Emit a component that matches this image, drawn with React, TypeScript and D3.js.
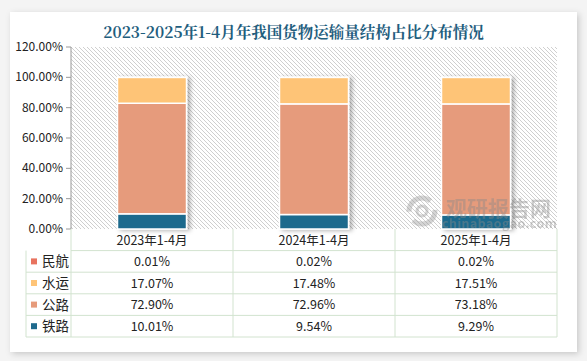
import * as d3 from "d3";

const categories = ["2023年1-4月", "2024年1-4月", "2025年1-4月"];
const seriesNames = ["铁路", "公路", "水运", "民航"];
const railway = [10.01, 9.54, 9.29];
const highway = [72.9, 72.96, 73.18];
const waterway = [17.07, 17.48, 17.51];
const aviation = [0.01, 0.02, 0.02];
const yTicks = [0, 20, 40, 60, 80, 100, 120];
const colors = ["#1E6A8D", "#E69B7B", "#FEC477", "#E8735F"];

const W = 587;
const H = 361;
const plot = { left: 71, right: 557, top: 47, bottom: 229 };
const FONT = "'Microsoft YaHei', 'Noto Sans CJK SC', 'Noto Sans', sans-serif";

export default function App() {
  const seriesValues = [railway, highway, waterway, aviation];
  const rows = categories.map((c, i) => {
    const r: Record<string, number | string> = { cat: c };
    seriesNames.forEach((s, j) => (r[s] = seriesValues[j][i]));
    return r;
  });
  const stack = d3.stack<Record<string, number | string>>().keys(seriesNames)(rows as any);

  const x = d3
    .scaleBand<string>()
    .domain(categories)
    .range([plot.left, plot.right])
    .paddingInner(0.574)
    .paddingOuter(0.287);
  const cols = d3.scaleBand<string>().domain(categories).range([plot.left, plot.right]);
  const y = d3.scaleLinear().domain([0, 120]).range([plot.bottom, plot.top]);

  // table rows: header + one per series (top row is 民航)
  const tableTop = plot.bottom;
  const rowH = 21.6;
  const tableRows = [...seriesNames].reverse();
  const tableLeft = 26;
  const tableBottom = tableTop + rowH * (tableRows.length + 1);

  return (
    <svg
      width={W}
      height={H}
      style={{ position: "absolute", left: 0, top: 0, fontFamily: FONT }}
    >
      <defs>
        <pattern id="hatch" width="4" height="4" patternUnits="userSpaceOnUse">
          <rect width="4" height="4" fill="#fff" />
          <path d="M-1,-1 L5,5 M-1,3 L1,5 M3,-1 L5,1" stroke="#cfcfcf" strokeWidth="1" />
        </pattern>
        <filter id="cardShadow" x="-5%" y="-5%" width="110%" height="110%">
          <feDropShadow dx="2" dy="2" stdDeviation="3" floodColor="#000" floodOpacity="0.18" />
        </filter>
        <filter id="barShadow" x="-20%" y="-5%" width="140%" height="110%">
          <feDropShadow dx="3" dy="1" stdDeviation="2" floodColor="#000" floodOpacity="0.3" />
        </filter>
      </defs>
      <rect width={W} height={H} fill="#f4f4f4" />
      <rect x={10} y={12} width={567} height={340} fill="#fff" filter="url(#cardShadow)" />

      <text
        x={W / 2}
        y={38}
        textAnchor="middle"
        fontSize={15.5}
        fontWeight={700}
        fill="#1F5E7E"
        fontFamily="'Noto Serif CJK SC', 'Noto Sans CJK SC', serif"
      >
        2023-2025年1-4月年我国货物运输量结构占比分布情况
      </text>

      {/* plot background */}
      <rect
        x={plot.left}
        y={plot.top}
        width={plot.right - plot.left}
        height={plot.bottom - plot.top}
        fill="url(#hatch)"
      />

      {/* y axis */}
      <line x1={plot.left} x2={plot.left} y1={plot.top} y2={plot.bottom} stroke="#999" />
      {yTicks.map((t) => (
        <g key={t}>
          <line x1={plot.left - 5} x2={plot.left} y1={y(t)} y2={y(t)} stroke="#999" />
          <text x={63} y={y(t) + 4} textAnchor="end" fontSize={12} fill="#222">
            {t.toFixed(2)}%
          </text>
        </g>
      ))}

      {/* bars */}
      <g filter="url(#barShadow)">
        {stack.map((layer, si) => (
          <g key={layer.key} fill={colors[si]}>
            {layer.map((d, i) => (
              <rect
                key={i}
                x={x(categories[i])}
                y={y(d[1])}
                width={x.bandwidth()}
                height={y(d[0]) - y(d[1])}
                stroke="#fff"
                strokeWidth={1.5}
              />
            ))}
          </g>
        ))}
      </g>

      {/* watermark */}
      <g opacity={0.42} fill="#8a8a8a">
        <circle cx={422} cy={211} r={13} fill="none" stroke="#9a9a9a" strokeWidth={5} strokeDasharray="30 10" />
        <circle cx={422} cy={211} r={5} fill="none" stroke="#9a9a9a" strokeWidth={3} />
        <text x={446} y={216} fontSize={21} fontWeight={700}>观研报告网</text>
        <text x={442} y={228} fontSize={12.5} fontWeight={700} letterSpacing={0.4}>chinabaogao.com</text>
      </g>

      {/* data table */}
      <g stroke="#D2E3CF" strokeWidth={1} fill="none">
        {d3.range(tableRows.length + 1).map((r) => (
          <line
            key={r}
            x1={r === 0 ? plot.left : tableLeft}
            x2={plot.right}
            y1={tableTop + rowH * (r + 1)}
            y2={tableTop + rowH * (r + 1)}
          />
        ))}
        <line x1={tableLeft} x2={tableLeft} y1={tableTop + rowH} y2={tableBottom} />
        <line x1={plot.left} x2={plot.left} y1={tableTop} y2={tableBottom} />
        {categories.map((c) => (
          <line
            key={c}
            x1={(cols(c) ?? 0) + cols.bandwidth()}
            x2={(cols(c) ?? 0) + cols.bandwidth()}
            y1={tableTop}
            y2={tableBottom}
          />
        ))}
      </g>
      {categories.map((c) => (
        <text
          key={c}
          x={(cols(c) ?? 0) + cols.bandwidth() / 2}
          y={tableTop + rowH / 2 + 5}
          textAnchor="middle"
          fontSize={12.5}
          fill="#222"
        >
          {c}
        </text>
      ))}
      {tableRows.map((s, r) => {
        const si = seriesNames.indexOf(s);
        const cy = tableTop + rowH * (r + 1) + rowH / 2;
        return (
          <g key={s}>
            <rect x={31} y={cy - 3} width={6} height={6} fill={colors[si]} />
            <text x={42} y={cy + 5} fontSize={13.5} fill="#222">
              {s}
            </text>
            {categories.map((c, i) => (
              <text
                key={c}
                x={(cols(c) ?? 0) + cols.bandwidth() / 2}
                y={cy + 4.5}
                textAnchor="middle"
                fontSize={12.5}
                fill="#222"
              >
                {seriesValues[si][i].toFixed(2)}%
              </text>
            ))}
          </g>
        );
      })}
    </svg>
  );
}
